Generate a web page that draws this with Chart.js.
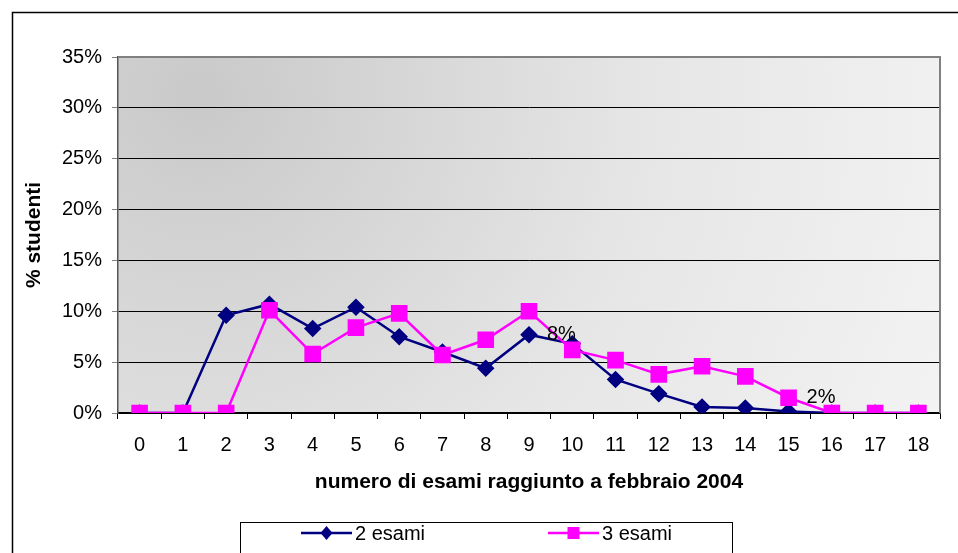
<!DOCTYPE html>
<html>
<head>
<meta charset="utf-8">
<script src="https://cdn.jsdelivr.net/npm/chart.js@4/dist/chart.umd.min.js"></script>
<style>
  html, body { margin: 0; padding: 0; background: #fff; }
  #wrap { width: 958px; height: 553px; }
</style>
</head>
<body>
<div id="wrap"><canvas id="chartEsami" width="958" height="553"></canvas></div>
<script>
// numero di esami (asse x)
const esami = ['0', '1', '2', '3', '4', '5', '6', '7', '8', '9', '10', '11', '12', '13', '14', '15', '16', '17', '18'];
// % studenti per serie
const dueEsami = [0, 0, 9.6, 10.7, 8.3, 10.4, 7.5, 6.0, 4.4, 7.7, 6.8, 3.3, 1.9, 0.6, 0.5, 0.15, 0, 0, 0];
const treEsami = [0, 0, 0, 10.1, 5.8, 8.4, 9.8, 5.7, 7.2, 10.0, 6.2, 5.2, 3.8, 4.6, 3.6, 1.5, 0, 0, 0];
// punti con etichetta del valore
const etichetteDue = [9];
const etichetteTre = [15];

const font = 'Liberation Sans, Arial, sans-serif';
Chart.defaults.font.family = font;
Chart.defaults.color = '#000';

// sfondo sfumato dell'area del grafico + cornici
const sfondo = {
  id: 'sfondo',
  beforeDraw(chart) {
    const { ctx, chartArea: a } = chart;
    ctx.save();
    ctx.fillStyle = '#fff';
    ctx.fillRect(0, 0, chart.width, chart.height);
    ctx.strokeStyle = '#000';
    ctx.lineWidth = 1.5;
    ctx.strokeRect(12.5, 12.5, chart.width + 20, chart.height + 20);
    const g = ctx.createRadialGradient(a.left + 80, a.top + 40, 0, a.left + 80, a.top + 40, 820);
    g.addColorStop(0, '#c9c9c9');
    g.addColorStop(0.55, '#e6e6e6');
    g.addColorStop(1, '#f3f3f3');
    ctx.fillStyle = g;
    ctx.fillRect(a.left, a.top, a.right - a.left, a.bottom - a.top);
    ctx.restore();
  },
  afterDatasetsDraw(chart) {
    const { ctx, chartArea: a } = chart;
    ctx.save();
    ctx.strokeStyle = '#808080';
    ctx.lineWidth = 2;
    ctx.beginPath();
    ctx.moveTo(a.left, a.top);
    ctx.lineTo(a.right, a.top);
    ctx.lineTo(a.right, a.bottom);
    ctx.stroke();
    ctx.restore();
  }
};

// etichette dei valori a destra del punto
const etichette = {
  id: 'etichette',
  afterDatasetsDraw(chart) {
    const { ctx } = chart;
    ctx.save();
    ctx.font = '20px ' + font;
    ctx.fillStyle = '#000';
    ctx.textAlign = 'left';
    ctx.textBaseline = 'middle';
    [etichetteDue, etichetteTre].forEach((idx, d) => {
      const meta = chart.getDatasetMeta(d);
      idx.forEach(i => {
        const p = meta.data[i];
        const v = chart.data.datasets[d].data[i];
        ctx.fillText(Math.round(v) + '%', p.x + 18, p.y);
      });
    });
    ctx.restore();
  }
};

// legenda in riquadro sotto il grafico
const legenda = {
  id: 'legenda',
  afterDraw(chart) {
    const { ctx } = chart;
    ctx.save();
    ctx.fillStyle = '#fff';
    ctx.fillRect(240, 522, 492, 40);
    ctx.strokeStyle = '#000';
    ctx.lineWidth = 1;
    ctx.strokeRect(240.5, 522.5, 492, 40);
    const y = 533;
    const voci = [[301, 0], [548, 1]];
    voci.forEach(([x, d]) => {
      const ds = chart.data.datasets[d];
      ctx.strokeStyle = ds.borderColor;
      ctx.lineWidth = ds.borderWidth;
      ctx.beginPath();
      ctx.moveTo(x, y);
      ctx.lineTo(x + 51, y);
      ctx.stroke();
      ctx.fillStyle = ds.pointBackgroundColor;
      const cx = x + 25.5;
      ctx.beginPath();
      if (ds.pointStyle === 'rectRot') {
        ctx.moveTo(cx, y - 7); ctx.lineTo(cx + 6, y); ctx.lineTo(cx, y + 7); ctx.lineTo(cx - 6, y);
      } else {
        ctx.rect(cx - 6, y - 6, 12, 12);
      }
      ctx.closePath();
      ctx.fill();
      ctx.fillStyle = '#000';
      ctx.font = '20px ' + font;
      ctx.textBaseline = 'middle';
      ctx.fillText(ds.label, x + 54, y + 1);
    });
    ctx.restore();
  }
};

new Chart(document.getElementById('chartEsami'), {
  type: 'line',
  data: {
    labels: esami,
    datasets: [{
      label: '2 esami',
      data: dueEsami,
      borderColor: '#000080',
      backgroundColor: '#000080',
      pointBackgroundColor: '#000080',
      pointBorderColor: '#000080',
      pointStyle: 'rectRot',
      pointRadius: 7,
      borderWidth: 2.5,
      order: 2
    }, {
      label: '3 esami',
      data: treEsami,
      borderColor: '#ff00ff',
      backgroundColor: '#ff00ff',
      pointBackgroundColor: '#ff00ff',
      pointBorderColor: '#ff00ff',
      pointStyle: 'rect',
      pointRadius: 10,
      borderWidth: 2.5,
      order: 1
    }]
  },
  options: {
    responsive: false,
    animation: false,
    layout: { padding: { left: 0, top: 57, right: 18, bottom: 0 } },
    plugins: {
      legend: { display: false },
      tooltip: { enabled: false }
    },
    scales: {
      x: {
        offset: true,
        afterFit: s => { s.height = 140; },
        grid: { offset: true, drawOnChartArea: false, tickLength: 6, tickColor: '#000' },
        border: { color: '#000', width: 1.5 },
        ticks: { font: { size: 20 }, padding: 14, maxRotation: 0 },
        title: {
          display: true,
          text: 'numero di esami raggiunto a febbraio 2004',
          font: { size: 21, weight: 'bold' },
          padding: { top: 0, bottom: 58 }
        }
      },
      y: {
        min: 0,
        max: 35,
        afterFit: s => { s.width = 118; },
        ticks: { stepSize: 5, font: { size: 20 }, padding: 10, callback: v => v + '%' },
        grid: { color: '#000', lineWidth: 1, tickLength: 6, tickColor: '#808080' },
        border: { color: '#555', width: 1.5 },
        title: {
          display: true,
          text: '% studenti',
          font: { size: 21, weight: 'bold' },
          padding: { top: 22, bottom: 0 }
        }
      }
    }
  },
  plugins: [sfondo, etichette, legenda]
});
</script>
</body>
</html>
